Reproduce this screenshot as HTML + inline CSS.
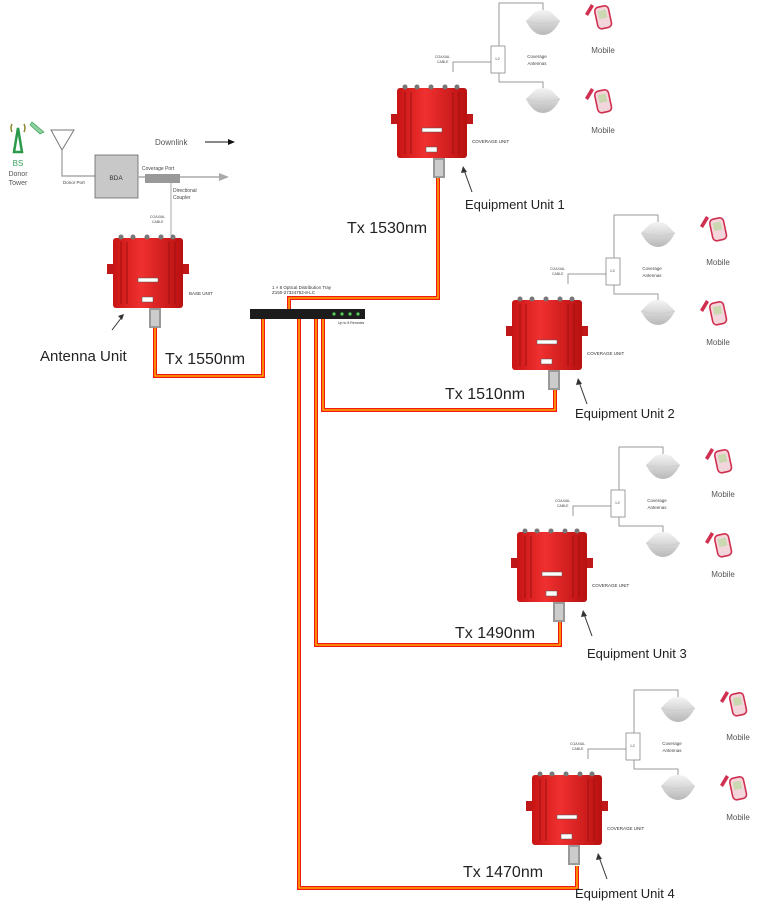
<!DOCTYPE html>
<html><head><meta charset="utf-8"><style>
body{margin:0;background:#fff}
svg{display:block;font-family:"Liberation Sans",sans-serif}
</style></head><body>
<svg width="768" height="901" viewBox="0 0 768 901" xmlns="http://www.w3.org/2000/svg">
<defs>
<linearGradient id="rg" x1="0" x2="1"><stop offset="0" stop-color="#c81414"/><stop offset="0.4" stop-color="#f03030"/><stop offset="1" stop-color="#b81010"/></linearGradient>
<linearGradient id="ag" x1="0" y1="0" x2="0" y2="1"><stop offset="0" stop-color="#f4f4f4"/><stop offset="1" stop-color="#b8b8b8"/></linearGradient>
<g id="box">
<rect x="-6" y="26" width="82" height="10" fill="#c01818"/>
<rect x="0" y="0" width="70" height="70" rx="3" fill="url(#rg)"/>
<g stroke="#a01010" stroke-width="1"><line x1="8" y1="4" x2="8" y2="66"/><line x1="14" y1="4" x2="14" y2="66"/><line x1="56" y1="4" x2="56" y2="66"/><line x1="62" y1="4" x2="62" y2="66"/></g>
<g fill="#777"><circle cx="8" cy="-1" r="2.5"/><circle cx="20" cy="-1" r="2.5"/><circle cx="34" cy="-1" r="2.5"/><circle cx="48" cy="-1" r="2.5"/><circle cx="60" cy="-1" r="2.5"/></g>
<rect x="25" y="40" width="20" height="4" fill="#fff" stroke="#555" stroke-width="0.5"/>
<rect x="29" y="59" width="11" height="5" fill="#fff" stroke="#555" stroke-width="0.5"/>
<rect x="36" y="70" width="12" height="20" fill="#999"/>
<rect x="38" y="72" width="8" height="16" fill="#ccc"/>
</g>
<g id="ant"><path d="M-8 -5 Q0 -9 8 -5 L17 4 Q10 18 0 18 Q-10 18 -17 4Z" fill="url(#ag)"/><path d="M-17 4 Q0 9 17 4" stroke="#ccc" stroke-width="0.8" fill="none"/></g>
<g id="ph"><rect x="0" y="0" width="14" height="22" rx="4" fill="#f3d6dc" stroke="#d03050" stroke-width="1.6" transform="rotate(-12)"/><rect x="3" y="4" width="8" height="8" fill="#c9d8b0" transform="rotate(-12)"/><path d="M-9 6 L-3 -4 L0 -2 L-6 8Z" fill="#d03050"/></g>
</defs>

<g fill="none" stroke-linejoin="miter">
<g stroke="#f01a10" stroke-width="4">
<path d="M155 320 V376 H263 V313"/>
<path d="M438 178 V298 H289 V313"/>
<path d="M555 390 V410 H323 V318"/>
<path d="M560 622 V645 H316 V318"/>
<path d="M577 866 V888 H299 V318"/>
</g>
<g stroke="#ffc400" stroke-width="1.3">
<path d="M155 320 V376 H263 V313"/>
<path d="M438 178 V298 H289 V313"/>
<path d="M555 390 V410 H323 V318"/>
<path d="M560 622 V645 H316 V318"/>
<path d="M577 866 V888 H299 V318"/>
</g>
</g>

<rect x="250" y="309" width="115" height="10" fill="#1c1c1c"/>
<g fill="#5c5"><circle cx="334" cy="314" r="1.6"/><circle cx="342" cy="314" r="1.6"/><circle cx="350" cy="314" r="1.6"/><circle cx="358" cy="314" r="1.6"/></g>
<text x="272" y="289" font-size="4.5" fill="#333">1 × 8 Optical Distribution Tray</text>
<text x="272" y="294" font-size="4.5" fill="#333">Z150-27324752-8-LC</text>
<text x="338" y="324" font-size="3.5" fill="#333">Up to 8 Remotes</text>

<path d="M18 128 L14 152 L22 152Z" fill="none" stroke="#2a9a4a" stroke-width="2.5"/>
<path d="M12 124 Q10 128 12 132 M24 124 Q26 128 24 132" stroke="#8a8a30" stroke-width="1.5" fill="none"/>
<path d="M32 122 L44 132 L40 134 L30 125Z" fill="#8fd0a0" stroke="#2a9a4a" stroke-width="0.6"/>
<text x="18" y="166" font-size="8" fill="#3aa060" text-anchor="middle">BS</text>
<text x="18" y="176" font-size="7" fill="#555" text-anchor="middle">Donor</text>
<text x="18" y="185" font-size="7" fill="#555" text-anchor="middle">Tower</text>
<path d="M51 130 L74 130 L62 150Z" fill="none" stroke="#777" stroke-width="1"/>
<path d="M62 150 V176 H95" stroke="#999" stroke-width="1.2" fill="none"/>
<text x="63" y="184" font-size="4.5" fill="#444">Donor Port</text>
<rect x="95" y="155" width="43" height="43" fill="#c8c8c8" stroke="#666" stroke-width="0.8"/>
<text x="116" y="180" font-size="6.5" fill="#333" text-anchor="middle">BDA</text>
<path d="M138 177 H225" stroke="#aaa" stroke-width="1.5"/><path d="M219 173 L229 177 L219 181Z" fill="#aaa"/>
<rect x="145" y="174" width="35" height="9" fill="#999"/>
<text x="142" y="170" font-size="5" fill="#444">Coverage Port</text>
<text x="173" y="192" font-size="5" fill="#444">Directional</text>
<text x="173" y="199" font-size="5" fill="#444">Coupler</text>
<path d="M171 183 V238" stroke="#aaa" stroke-width="1"/>
<text x="150" y="218" font-size="3.5" fill="#444">COAXIAL</text><text x="152" y="223" font-size="3.5" fill="#444">CABLE</text>
<text x="155" y="145" font-size="8" fill="#555">Downlink</text>
<path d="M205 142 H230" stroke="#111" stroke-width="1"/><path d="M228 139 L235 142 L228 145Z" fill="#111"/>

<use href="#box" x="113" y="238"/>
<text x="189" y="295" font-size="4.5" fill="#333">BASE UNIT</text>
<path d="M112 330 L122 317" stroke="#333" stroke-width="1"/><path d="M118 316 L124 314 L122 320Z" fill="#333"/>
<text x="40" y="361" font-size="15" fill="#222">Antenna Unit</text>
<text x="165" y="364" font-size="16" fill="#222">Tx 1550nm</text>

<g id="cov1">
<use href="#box" x="397" y="88"/>
<text x="472" y="143" font-size="4.5" fill="#333">COVERAGE UNIT</text>
<path d="M453 72 V62 H491" stroke="#999" stroke-width="1" fill="none"/>
<text x="435" y="58" font-size="3.5" fill="#444">COAXIAL</text><text x="437" y="63" font-size="3.5" fill="#444">CABLE</text>
<rect x="491" y="46" width="14" height="27" fill="#fff" stroke="#888" stroke-width="0.8"/>
<text x="495" y="60" font-size="3.5" fill="#444">1:2</text>
<path d="M499 46 V3 H543 V12 M499 73 V82 H543 V90" stroke="#999" stroke-width="1" fill="none"/>
<use href="#ant" x="543" y="17"/><use href="#ant" x="543" y="95"/>
<text x="537" y="58" font-size="4.5" fill="#444" text-anchor="middle">Coverage</text>
<text x="537" y="65" font-size="4.5" fill="#444" text-anchor="middle">Antennas</text>
<use href="#ph" x="594" y="8"/><use href="#ph" x="594" y="92"/>
<text x="603" y="53" font-size="8" fill="#555" text-anchor="middle">Mobile</text>
<text x="603" y="133" font-size="8" fill="#555" text-anchor="middle">Mobile</text>
<path d="M472 192 L464 170" stroke="#333" stroke-width="1"/><path d="M461 173 L463 166 L467 172Z" fill="#333"/>
</g>
<text x="465" y="209" font-size="13" fill="#222">Equipment Unit 1</text>
<text x="347" y="233" font-size="16" fill="#222">Tx 1530nm</text>

<use href="#cov1" transform="translate(115,212)"/>
<text x="575" y="418" font-size="13" fill="#222">Equipment Unit 2</text>
<text x="445" y="399" font-size="16" fill="#222">Tx 1510nm</text>

<use href="#cov1" transform="translate(120,444)"/>
<text x="587" y="658" font-size="13" fill="#222">Equipment Unit 3</text>
<text x="455" y="638" font-size="16" fill="#222">Tx 1490nm</text>

<use href="#cov1" transform="translate(135,687)"/>
<text x="575" y="898" font-size="13" fill="#222">Equipment Unit 4</text>
<text x="463" y="877" font-size="16" fill="#222">Tx 1470nm</text>
</svg>
</body></html>
